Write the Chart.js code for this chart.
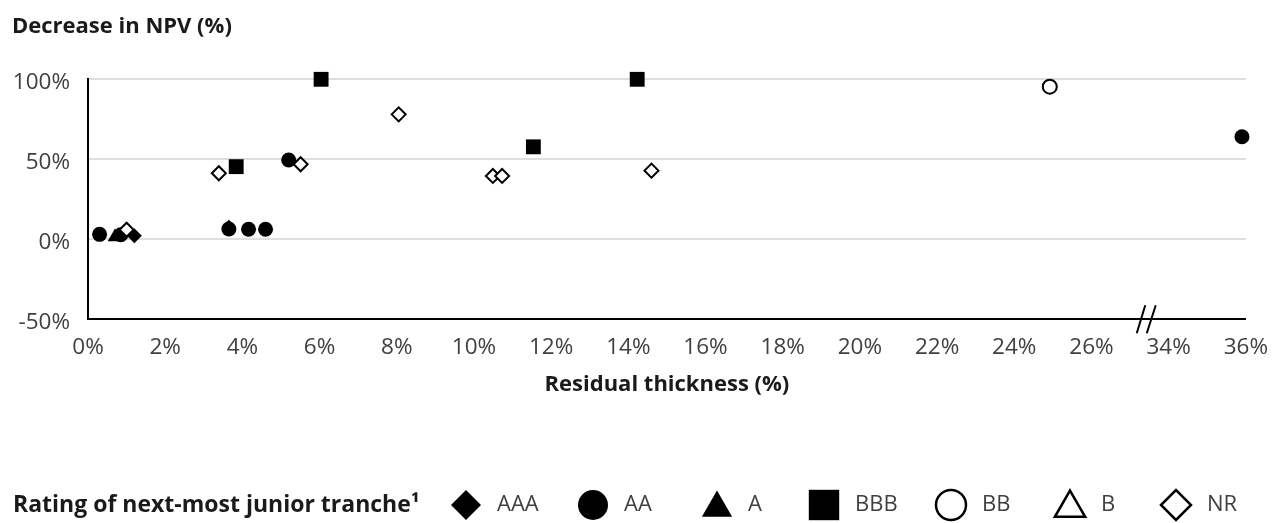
<!DOCTYPE html>
<html>
<head>
<meta charset="utf-8">
<script src="https://cdn.jsdelivr.net/npm/chart.js@4.4.1/dist/chart.umd.min.js"></script>
<style>
  body { margin: 0; background: #fff; }
  #wrap { width: 1283px; height: 523px; }
</style>
</head>
<body>
<div id="wrap"><canvas id="npvChart" width="1283" height="523"></canvas></div>
<script>
// ratings of the next-most junior tranche
const ratings = ['AAA', 'AA', 'A', 'BBB', 'BB', 'B', 'NR'];

// residual thickness (%) and decrease in NPV (%) per rating
const aaaX = [1.2, 3.65];
const aaaY = [2.2, 7.5];
const aaX = [0.3, 0.85, 3.65, 4.16, 4.6, 5.2, 35.9];
const aaY = [3.1, 2.8, 6.4, 6.3, 6.3, 49.6, 64.1];
const aX = [0.7];
const aY = [1.5];
const bbbX = [3.84, 6.04, 11.54, 14.23];
const bbbY = [45.4, 100, 57.8, 100];
const bbX = [24.92];
const bbY = [95.4];
const bX = [];
const bY = [];
const nrX = [1.0, 3.39, 5.51, 8.05, 10.49, 10.73, 14.6];
const nrY = [6.0, 41.3, 46.9, 78.1, 39.6, 39.6, 42.9];

// axis labels (the x axis jumps from 26% to 34%)
const xTickLabels = ['0%', '2%', '4%', '6%', '8%', '10%', '12%', '14%', '16%', '18%', '20%', '22%', '24%', '26%', '34%', '36%'];
const yTickValues = [-50, 0, 50, 100];
const breakSkip = 6;      // 28 on the axis stands for 34%
const breakAt = 27.42;    // where the // mark sits on the axis

function toAxis(x) {
    return x <= 27 ? x : x - breakSkip;
}

function points(xs, ys) {
    return xs.map((x, i) => ({ x: toAxis(x), y: ys[i] }));
}

const FONT = "'Open Sans', 'Noto Sans', sans-serif";
const TEXT = '#404040';
const DARK = '#1a1a1a';

function series(label, xs, ys, style, filled, radius, order) {
    return {
        label: label,
        data: points(xs, ys),
        pointStyle: style,
        pointRadius: radius,
        pointHoverRadius: radius,
        pointBackgroundColor: filled ? '#000' : '#fff',
        pointBorderColor: '#000',
        pointBorderWidth: filled ? 0 : 2,
        clip: false,
        order: order,
        legendFilled: filled
    };
}

const datasets = [
    series(ratings[0], aaaX, aaaY, 'rectRot', true, 7.5, 5),
    series(ratings[1], aaX, aaY, 'circle', true, 7.5, 4),
    series(ratings[2], aX, aY, 'triangle', true, 8.5, 6),
    series(ratings[3], bbbX, bbbY, 'rect', true, 10.5, 3),
    series(ratings[4], bbX, bbY, 'circle', false, 7, 1),
    series(ratings[5], bX, bY, 'triangle', false, 8.5, 2),
    series(ratings[6], nrX, nrY, 'rectRot', false, 7, 0)
];

// axis break "//" on the x axis
const breakMark = {
    id: 'breakMark',
    afterDraw(chart) {
        const ctx = chart.ctx;
        const x = chart.scales.x.getPixelForValue(breakAt);
        const y = chart.chartArea.bottom;
        ctx.save();
        ctx.strokeStyle = '#000';
        ctx.lineWidth = 2;
        ctx.beginPath();
        ctx.moveTo(x - 9.5, y + 14);
        ctx.lineTo(x - 1, y - 14);
        ctx.moveTo(x + 0.5, y + 14);
        ctx.lineTo(x + 9.5, y - 14);
        ctx.stroke();
        ctx.restore();
    }
};

// legend row at the bottom
const legendCenters = [466, 593, 717, 824, 951, 1070, 1176];
const legendRadius = { circle: 15, rect: 21.5, rectRot: 15, triangle: 17.5 };

const ratingLegend = {
    id: 'ratingLegend',
    afterDraw(chart) {
        const ctx = chart.ctx;
        const y = 505;
        ctx.save();
        ctx.textBaseline = 'middle';
        ctx.textAlign = 'left';
        ctx.fillStyle = DARK;
        ctx.font = 'bold 23px ' + FONT;
        ctx.fillText('Rating of next-most junior tranche\u00B9', 13, y);
        ctx.font = '22px ' + FONT;
        chart.data.datasets.forEach((ds, i) => {
            const cx = legendCenters[i];
            ctx.fillStyle = ds.legendFilled ? '#000' : '#fff';
            ctx.strokeStyle = '#000';
            ctx.lineWidth = 2.5;
            Chart.helpers.drawPoint(ctx, {
                pointStyle: ds.pointStyle,
                radius: legendRadius[ds.pointStyle],
                rotation: 0,
                borderWidth: ds.legendFilled ? 0 : 2.5
            }, cx, y + (ds.pointStyle === 'triangle' ? 3 : 0));
            ctx.fillStyle = TEXT;
            ctx.fillText(ds.label, cx + 31, y);
        });
        ctx.restore();
    }
};

window.onload = function () {
    const ctx = document.getElementById('npvChart').getContext('2d');
    new Chart(ctx, {
        type: 'scatter',
        data: { datasets: datasets },
        options: {
            responsive: false,
            animation: false,
            events: [],
            layout: { padding: { left: 12, right: 28, top: 0, bottom: 113.7 } },
            plugins: {
                legend: { display: false },
                tooltip: { enabled: false },
                title: {
                    display: true,
                    text: 'Decrease in NPV (%)',
                    align: 'start',
                    color: DARK,
                    font: { family: FONT, size: 22, weight: 'bold', lineHeight: 1.2 },
                    padding: { top: 13.8, bottom: 39.1 }
                }
            },
            scales: {
                x: {
                    type: 'linear',
                    min: 0,
                    max: 30,
                    afterFit: s => { s.height = 90; },
                    afterBuildTicks: s => {
                        s.ticks = xTickLabels.map((t, i) => ({ value: i * 2 }));
                    },
                    ticks: {
                        padding: 15,
                        color: TEXT,
                        font: { family: FONT, size: 22.5 },
                        maxRotation: 0,
                        autoSkip: false,
                        callback: (v, i) => xTickLabels[i]
                    },
                    grid: { display: false, drawTicks: false },
                    border: { display: true, color: '#000', width: 2 },
                    title: {
                        display: true,
                        text: 'Residual thickness (%)',
                        color: DARK,
                        font: { family: FONT, size: 22, weight: 'bold', lineHeight: 1.2 },
                        padding: { top: 0, bottom: 11 }
                    }
                },
                y: {
                    min: -50,
                    max: 100,
                    afterFit: s => { s.width = 76; },
                    afterBuildTicks: s => {
                        s.ticks = yTickValues.map(v => ({ value: v }));
                    },
                    ticks: {
                        padding: 18,
                        labelOffset: 3,
                        color: TEXT,
                        font: { family: FONT, size: 22.5 },
                        callback: v => v + '%'
                    },
                    grid: {
                        drawTicks: false,
                        lineWidth: 2,
                        color: c => c.tick && c.tick.value === -50 ? 'rgba(0,0,0,0)' : '#dedede'
                    },
                    border: { display: true, color: '#000', width: 2 }
                }
            }
        },
        plugins: [breakMark, ratingLegend]
    });
};
</script>
</body>
</html>
